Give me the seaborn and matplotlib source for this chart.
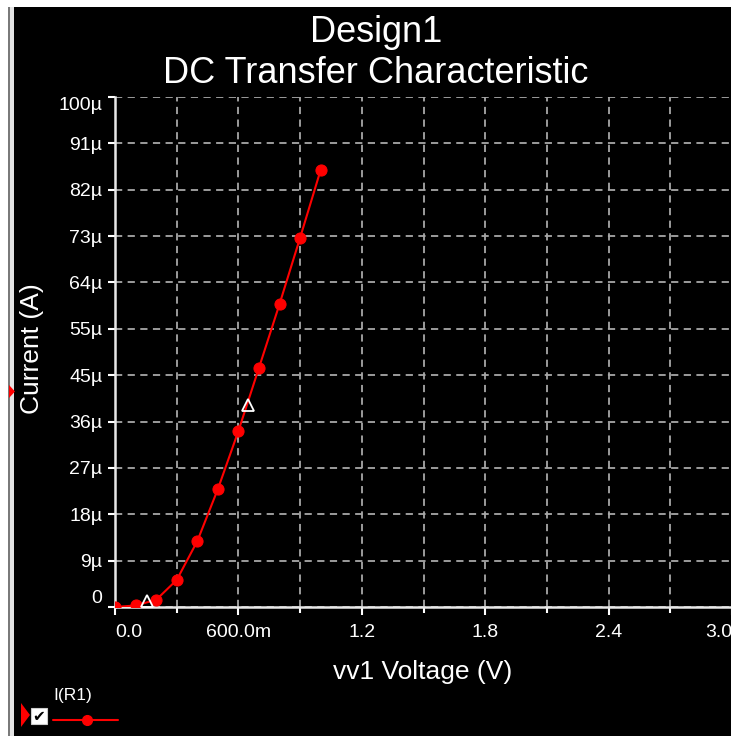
"""
DC Transfer Characteristic (Design1) - I(R1) vs vv1 voltage, estilo do visualizador de simulação
"""
import numpy as np
import seaborn as sns
import matplotlib.pyplot as plt
from matplotlib.lines import Line2D
from matplotlib.patches import Rectangle, Polygon

# === Dados ===
VOLTS = [0.0, 0.1, 0.2, 0.3, 0.4, 0.5, 0.6, 0.7, 0.8, 0.9, 1.0]
CURRENT_UA = [0.0, 0.3, 1.4, 5.3, 12.9, 23.1, 34.5, 46.9, 59.4, 72.4, 85.7]

# cursores (triângulos brancos)
CURSOR_V = [0.155, 0.645]
CURSOR_UA = [1.2, 39.6]

X_MAJOR = [0.0, 0.6, 1.2, 1.8, 2.4, 3.0]
X_LABELS = ["0.0", "600.0m", "1.2", "1.8", "2.4", "3.0"]
X_MINOR = [0.3, 0.9, 1.5, 2.1, 2.7]
Y_TICKS = list(np.linspace(0, 100, 12))
Y_LABELS = ["0", "9µ", "18µ", "27µ", "36µ", "45µ", "55µ", "64µ", "73µ", "82µ", "91µ", "100µ"]

TITLE = ["Design1", "DC Transfer Characteristic"]
XLABEL = "vv1 Voltage (V)"
YLABEL = "Current (A)"
TRACE = "I(R1)"

W, H = 731, 736
RED = "#ff0000"
FONT = ["Liberation Sans", "DejaVu Sans"]


def fx(px):
    return px / W


def fy(py):
    return 1 - py / H


sns.set_theme(style="dark")
plt.rcParams["font.family"] = FONT

fig = plt.figure(figsize=(W / 100, H / 100), dpi=100, facecolor="black")

# moldura da janela (faixas brancas/cinzas à esquerda e em cima)
for x0, x1, c in [(0, 8, "white"), (8, 10, "#7a7a7a"), (10, 14, "#e4e4e4")]:
    fig.add_artist(Rectangle((fx(x0), 0), fx(x1 - x0), 1, transform=fig.transFigure,
                             color=c, lw=0, zorder=0))
fig.add_artist(Rectangle((0, fy(7)), 1, 7 / H, transform=fig.transFigure,
                         color="white", lw=0, zorder=0))

ax = fig.add_axes([fx(115), fy(607), fx(617), 510 / H], facecolor="black")

sns.lineplot(x=VOLTS, y=CURRENT_UA, ax=ax, color=RED, linewidth=1.5,
             marker="o", markersize=8, markeredgecolor=RED, zorder=5)
ax.plot(CURSOR_V, CURSOR_UA, linestyle="", marker="^", markersize=8,
        markerfacecolor="none", markeredgecolor="white", markeredgewidth=1.3, zorder=6)

ax.set_xlim(0, 3.0)
ax.set_ylim(0, 100)

ax.set_xticks(X_MAJOR)
ax.set_xticklabels(X_LABELS)
ax.set_xticks(X_MINOR, minor=True)
ax.set_yticks(Y_TICKS)
ax.set_yticklabels(Y_LABELS)

ax.tick_params(axis="x", which="major", colors="white", length=6, width=1.5,
               labelsize=14, pad=6, labelcolor="white")
ax.tick_params(axis="x", which="minor", colors="white", length=4, width=1.5)
ax.tick_params(axis="y", which="major", colors="white", length=5, width=1.5,
               labelsize=14, pad=4, labelcolor="white")
ax.tick_params(left=True, bottom=True, which="both")

# primeiro/último rótulo alinhados para dentro (como no original)
xl = ax.get_xticklabels()
xl[0].set_horizontalalignment("left")
xl[-1].set_horizontalalignment("right")
yl = ax.get_yticklabels()
yl[0].set_verticalalignment("bottom")
yl[-1].set_verticalalignment("top")

ax.grid(True, which="both", axis="x", color="#a8a8a8", linestyle=(0, (4, 3)), linewidth=1.3)
ax.grid(True, which="major", axis="y", color="#a8a8a8", linestyle=(0, (4, 3)), linewidth=1.3)
ax.set_axisbelow(True)

for side in ["top", "right"]:
    ax.spines[side].set_visible(False)
for side in ["left", "bottom"]:
    ax.spines[side].set_color("#e8e8e8")
    ax.spines[side].set_linewidth(1.8)

# títulos e rótulos
fig.text(fx(376), fy(42), TITLE[0], ha="center", va="baseline", fontsize=26, color="white")
fig.text(fx(376), fy(83), TITLE[1], ha="center", va="baseline", fontsize=26, color="white")
fig.text(fx(423), fy(672), XLABEL, ha="center", va="center", fontsize=19, color="white")
fig.text(fx(32), fy(349), YLABEL, ha="center", va="center", rotation=90, fontsize=19, color="white")

# marcador do eixo (triângulo vermelho à esquerda)
fig.add_artist(Polygon([(fx(9), fy(385)), (fx(9), fy(398)), (fx(15), fy(391.5))],
                       closed=True, transform=fig.transFigure, color=RED, lw=0, zorder=3))

# legenda do traço
fig.add_artist(Polygon([(fx(21), fy(703)), (fx(21), fy(727)), (fx(30), fy(715))],
                       closed=True, transform=fig.transFigure, color=RED, lw=0))
fig.add_artist(Rectangle((fx(31), fy(724)), fx(16), 16 / H, transform=fig.transFigure,
                         facecolor="white", edgecolor="#cccccc", lw=0.8))
fig.text(fx(39), fy(716.5), "✔", ha="center", va="center", fontsize=11, color="black",
         family=["DejaVu Sans"])
fig.add_artist(Line2D([fx(53), fx(118)], [fy(720), fy(720)], transform=fig.transFigure,
                      color=RED, linewidth=1.5))
fig.add_artist(Line2D([fx(87)], [fy(720)], transform=fig.transFigure, color=RED,
                      marker="o", markersize=7, linestyle=""))
fig.text(fx(53), fy(700), TRACE, ha="left", va="baseline", fontsize=12.5, color="white")

fig.savefig("out.png", dpi=100, facecolor="black")
